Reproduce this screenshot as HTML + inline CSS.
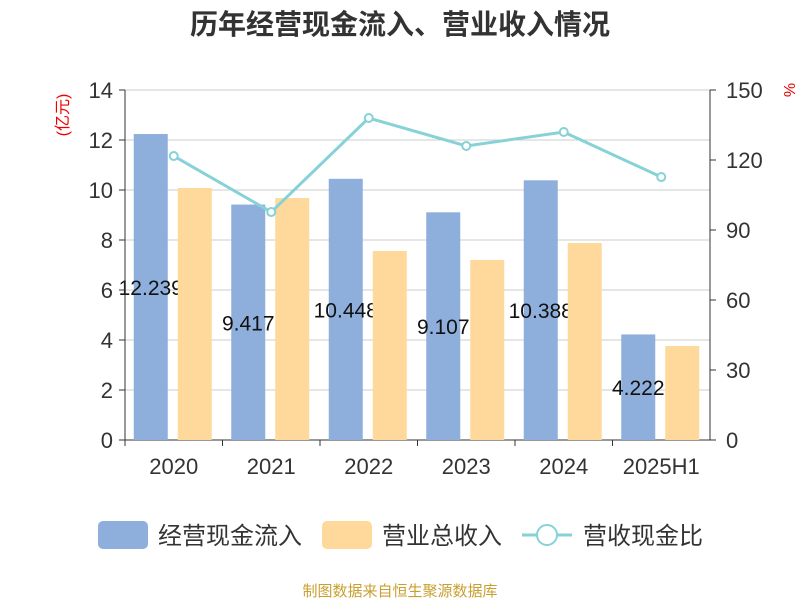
<!DOCTYPE html>
<html><head><meta charset="utf-8"><style>
body{margin:0;background:#fff;}
svg text{font-family:"Liberation Sans","Noto Sans CJK SC",sans-serif;}
</style></head><body>
<svg width="800" height="600" id="chart">
<text x="400" y="34" text-anchor="middle" font-size="28" font-weight="bold" fill="#333">历年经营现金流入、营业收入情况</text>
<text transform="translate(68,115) rotate(-90)" text-anchor="middle" font-size="16" fill="#e00">(亿元)</text>
<text transform="translate(784,90) rotate(90)" text-anchor="middle" font-size="16" fill="#e00">%</text>
<g id="grid"></g><g id="bars"></g><g id="axes"></g><g id="line"></g>
<g>
<rect x="98" y="521" width="50" height="28" rx="5" fill="#8eaedb"/>
<text x="158" y="544" font-size="24" fill="#333">经营现金流入</text>
<rect x="322" y="521" width="50" height="28" rx="5" fill="#fed99b"/>
<text x="382" y="544" font-size="24" fill="#333">营业总收入</text>
<line x1="522" y1="535" x2="572" y2="535" stroke="#86d2d6" stroke-width="3"/>
<circle cx="547" cy="535" r="10" fill="#fff" stroke="#86d2d6" stroke-width="2"/>
<text x="583" y="544" font-size="24" fill="#333">营收现金比</text>
</g>
<text x="400" y="596" text-anchor="middle" font-size="15" fill="#c9a030">制图数据来自恒生聚源数据库</text>
</svg>
<script>
const categories=["2020","2021","2022","2023","2024","2025H1"];
const cashInflow=[12.239,9.417,10.448,9.107,10.388,4.222];
const revenue=[10.08,9.68,7.56,7.2,7.88,3.76];
const ratio=[121.7,97.7,138,126,132,112.7];
const leftTicks=[0,2,4,6,8,10,12,14];
const rightTicks=[0,30,60,90,120,150];
const NS="http://www.w3.org/2000/svg";
const X0=125,X1=710,Y0=440,Y1=90;
const bw=(X1-X0)/categories.length;
const yL=v=>Y0-(v/14)*(Y0-Y1);
const yR=v=>Y0-(v/150)*(Y0-Y1);
const xc=i=>X0+bw*(i+0.5);
function mk(tag,attrs,parent,txt){const e=document.createElementNS(NS,tag);for(const k in attrs)e.setAttribute(k,attrs[k]);if(txt!==undefined)e.textContent=txt;document.getElementById(parent).appendChild(e);return e;}
leftTicks.forEach(t=>{
 const g=mk('line',{x1:X0,x2:X1,y1:yL(t),y2:yL(t),stroke:t===0?'#333':'#ccc','stroke-width':1},'grid');
 
 
 const l=mk('text',{x:X0-12,y:yL(t)+8,'text-anchor':'end','font-size':22,fill:'#333'},'axes',String(t));
 
 
 const tk=mk('line',{x1:X0-6,x2:X0,y1:yL(t),y2:yL(t),stroke:'#333'},'axes');
 
 
});
rightTicks.forEach(t=>{
 const l=mk('text',{x:X1+16,y:yR(t)+8,'font-size':22,fill:'#333'},'axes',String(t));
 
 
 const tk=mk('line',{x1:X1,x2:X1+6,y1:yR(t),y2:yR(t),stroke:'#333'},'axes');
 
 
});
let a=mk('line',{x1:X0,x2:X0,y1:Y1,y2:Y0,stroke:'#333'},'axes');


a=mk('line',{x1:X1,x2:X1,y1:Y1,y2:Y0,stroke:'#333'},'axes');


categories.forEach((c,i)=>{
 const b=mk('rect',{x:xc(i)-40,y:yL(cashInflow[i]),width:34,height:Y0-yL(cashInflow[i]),fill:'#8eaedb'},'bars');
 
 
 const v=mk('text',{x:xc(i)-23,y:(yL(cashInflow[i])+Y0)/2+8,'text-anchor':'middle','font-size':21,fill:'#111'},'bars',String(cashInflow[i]));
 
 
});
categories.forEach((c,i)=>{
 const b=mk('rect',{x:xc(i)+4,y:yL(revenue[i]),width:34,height:Y0-yL(revenue[i]),fill:'#fed99b'},'bars');
 
 
 const l=mk('text',{x:xc(i),y:474,'text-anchor':'middle','font-size':22,fill:'#333'},'axes',c);
 
 
 const tk=mk('line',{x1:X0+bw*i,x2:X0+bw*i,y1:Y0,y2:Y0+6,stroke:'#333'},'axes');
 
 
});
const p=mk('polyline',{points:ratio.map((v,i)=>xc(i)+','+yR(v)).join(' '),fill:'none',stroke:'#86d2d6','stroke-width':3},'line');


ratio.forEach((v,i)=>{
 const c=mk('circle',{cx:xc(i),cy:yR(v),r:4,fill:'#fff',stroke:'#86d2d6','stroke-width':2},'line');
 
 
});
</script>
</body></html>
